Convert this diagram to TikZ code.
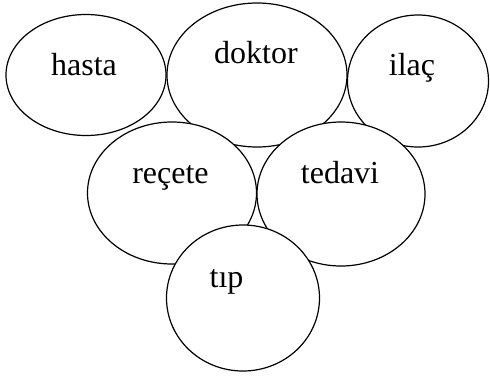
\documentclass[tikz,border=0pt]{standalone}
\usepackage{fontspec}
\setmainfont{Liberation Serif}
\usetikzlibrary{shapes.geometric}

\tikzset{
  bubble/.style={draw, ellipse, fill=white, line width=1.2pt, inner sep=0pt},
  word/.style={anchor=base, inner sep=0pt, font=\fontsize{32}{38}\selectfont}
}

\begin{document}
\begin{tikzpicture}[x=1pt, y=-1pt]
      \useasboundingbox (0,0) rectangle (490,376);

      % Top row
      \node[bubble, minimum width=160pt, minimum height=121pt] (hasta) at (86,75) {};
      \node[bubble, minimum width=180pt, minimum height=144pt] (doktor) at (257,75) {};
      \node[bubble, minimum width=141pt, minimum height=132pt] (ilac) at (418,81) {};

      % Middle row
      \node[bubble, minimum width=169pt, minimum height=142pt] (recete) at (172,193) {};
      \node[bubble, minimum width=168pt, minimum height=144pt] (tedavi) at (341,194) {};

      % Bottom
      \node[bubble, minimum width=153pt, minimum height=146pt] (tip) at (243,298) {};

      % Labels
      \node[word] (hasta-t) at (84,75) {hasta};
      \node[word] (doktor-t) at (256,63) {doktor};
      \node[word] (ilac-t) at (412,75) {ilaç};
      \node[word] (recete-t) at (170.5,183) {reçete};
      \node[word] (tedavi-t) at (340,183) {tedavi};
      \node[word] (tip-t) at (226.5,287) {tıp};
    \end{tikzpicture}
\end{document}
